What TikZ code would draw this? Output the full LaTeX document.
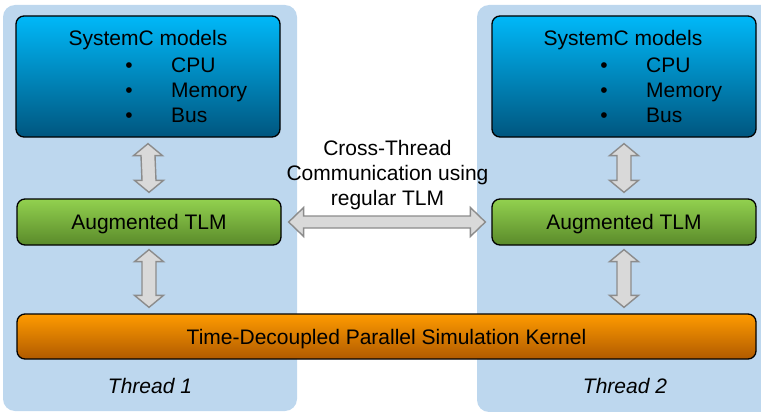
\documentclass[tikz,border=0pt]{standalone}
\usepackage{fontspec}
\setmainfont{Liberation Sans}
\usetikzlibrary{calc}
\definecolor{panelblue}{HTML}{BDD7EE}
\definecolor{bluetop}{HTML}{00B8F8}
\definecolor{bluebot}{HTML}{00567F}
\definecolor{greentop}{HTML}{92D14F}
\definecolor{greenbot}{HTML}{5A8A2A}
\definecolor{orangetop}{HTML}{FF9B00}
\definecolor{orangebot}{HTML}{B05A00}
\definecolor{arrfill}{HTML}{D9D9D9}
\definecolor{arrdraw}{HTML}{8C8C8C}
\newcommand{\vdarrow}[2]{%
  \draw[fatarrow] (#1) -- ++(14.5,12) -- ++(-7.5,0) -- ($(#2)+(7,-12)$) -- ++(7.5,0) -- (#2)
    -- ++(-14.5,-12) -- ++(7.5,0) -- ($(#1)+(-7,12)$) -- ++(-7.5,0) -- cycle;}
\newcommand{\hdarrow}[2]{%
  \draw[fatarrow] (#1) -- ++(15,-14.5) -- ++(0,8.5) -- ($(#2)+(-15,-6)$) -- ++(0,-8.5) -- (#2)
    -- ++(-15,14.5) -- ++(0,-8.5) -- ($(#1)+(15,6)$) -- ++(0,8.5) -- cycle;}
\begin{document}
\begin{tikzpicture}[x=1pt,y=-1pt,
  every node/.style={font=\fontsize{21}{25}\selectfont, inner sep=0pt},
  panel/.style={fill=panelblue, rounded corners=12pt, draw=none},
  boxbase/.style={draw=black, line width=1.3pt, rounded corners=8pt},
  bluebox/.style={boxbase, top color=bluetop, bottom color=bluebot},
  greenbox/.style={boxbase, top color=greentop, bottom color=greenbot, text height=15pt, text depth=0pt},
  orangebox/.style={boxbase, top color=orangetop, bottom color=orangebot, text height=15pt, text depth=0pt},
  fatarrow/.style={fill=arrfill, draw=arrdraw, line width=1.4pt, line join=miter},
  lbl/.style={anchor=base},
  item/.style={anchor=base west}
]
\useasboundingbox (0,0) rectangle (761,412);
% thread panels
\node[panel, minimum width=294pt, minimum height=406pt] (panel1) at (150,208) {};
\node[panel, minimum width=310pt, minimum height=407pt] (panel2) at (632,208.5) {};
% SystemC model boxes
\node[bluebox, minimum width=264pt, minimum height=121pt] (sc1) at (148,76.5) {};
\node[bluebox, minimum width=264pt, minimum height=121pt] (sc2) at (624,76.5) {};
% Augmented TLM boxes
\node[greenbox, minimum width=264pt, minimum height=46pt] (tlm1) at (149,222) {Augmented TLM};
\node[greenbox, minimum width=264pt, minimum height=46pt] (tlm2) at (624,222) {Augmented TLM};
% kernel
\node[orangebox, minimum width=739pt, minimum height=45pt] (kern) at (386.5,336.5) {Time-Decoupled Parallel Simulation Kernel};
% SystemC text left
\node[lbl] (t1) at (148,46) {SystemC models};
\node[lbl] (b1a) at (129,72.5) {•};
\node[lbl] (b1b) at (129,97.5) {•};
\node[lbl] (b1c) at (129,122.5) {•};
\node[item] (i1a) at (171,72.5) {CPU};
\node[item] (i1b) at (171,97.5) {Memory};
\node[item] (i1c) at (171,122.5) {Bus};
% SystemC text right
\node[lbl] (t2) at (623,46) {SystemC models};
\node[lbl] (b2a) at (604,72.5) {•};
\node[lbl] (b2b) at (604,97.5) {•};
\node[lbl] (b2c) at (604,122.5) {•};
\node[item] (i2a) at (646,72.5) {CPU};
\node[item] (i2b) at (646,97.5) {Memory};
\node[item] (i2c) at (646,122.5) {Bus};
% cross-thread label
\node[lbl] (ct1) at (387.5,155) {Cross-Thread};
\node[lbl] (ct2) at (387.5,180) {Communication using};
\node[lbl] (ct3) at (387.5,205) {regular TLM};
% thread labels
\node[lbl, font=\fontsize{21}{25}\selectfont\itshape] (th1) at (150,393) {Thread 1};
\node[lbl, font=\fontsize{21}{25}\selectfont\itshape] (th2) at (625,393) {Thread 2};
% arrows
\coordinate (a1t) at ($(sc1.south)+(0,6)$);
\coordinate (a1b) at ($(tlm1.north)+(0,-6)$);
\coordinate (a2t) at ($(tlm1.south)+(0,4)$);
\coordinate (a2b) at ($(tlm1.south |- kern.north)+(0,-6)$);
\coordinate (a3t) at ($(sc2.south)+(0,6)$);
\coordinate (a3b) at ($(tlm2.north)+(0,-6)$);
\coordinate (a4t) at ($(tlm2.south)+(0,4)$);
\coordinate (a4b) at ($(tlm2.south |- kern.north)+(0,-6)$);
\coordinate (hl) at ($(tlm1.east)+(7,0)$);
\coordinate (hr) at ($(tlm2.west)+(-6,0)$);
\vdarrow{a1t}{a1b}
\vdarrow{a2t}{a2b}
\vdarrow{a3t}{a3b}
\vdarrow{a4t}{a4b}
\hdarrow{hl}{hr}
\end{tikzpicture}
\end{document}
